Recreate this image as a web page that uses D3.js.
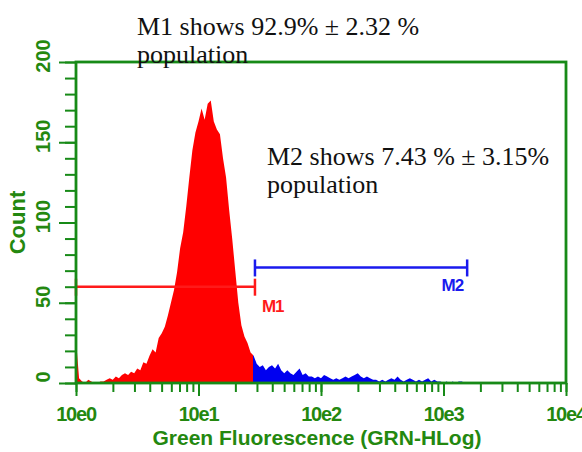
<!DOCTYPE html>
<html>
<head>
<meta charset="utf-8">
<script src="https://cdn.jsdelivr.net/npm/d3@7/dist/d3.min.js"></script>
<style>
  html, body { margin: 0; padding: 0; background: #fff; }
  svg { display: block; }
</style>
</head>
<body>
<div id="chart"></div>
<script>
// Histogram channels: 40 channels per decade starting at 10e0
const binsPerDecade = 40;
const counts = [
  27, 3, 1, 0, 2, 1, 0, 0, 1, 1,
  2, 3, 2, 4, 3, 5, 6, 5, 7, 6,
  9, 8, 13, 12, 17, 21, 19, 28, 31, 35,
  42, 50, 58, 69, 84, 94, 110, 128, 145, 156,
  163, 171, 164, 174, 176, 163, 158, 155, 140, 128,
  108, 90, 70, 50, 36, 29, 25, 19, 17, 12,
  10, 11, 8, 10, 11, 9, 12, 8, 6, 8,
  6, 5, 7, 9, 5, 6, 4, 4, 3, 4,
  3, 5, 4, 3, 2, 3, 2, 3, 4, 3,
  4, 5, 6, 4, 3, 4, 3, 2, 2, 1,
  2, 1, 2, 3, 2, 4, 2, 1, 2, 3,
  2, 1, 2, 1, 2, 3, 1, 2, 1, 1,
  0, 1, 0, 1, 0, 1, 1, 0, 0
];

// Gates (markers)
const markerNames = ["M1", "M2"];
const markerStart = [1, 28.9];
const markerEnd = [28.9, 1560];
const markerLevel = [60, 72];
const markerColors = ["#ff1a1a", "#1a1aee"];

// Axes
const xDecades = [1, 10, 100, 1000, 10000];
const xDecadeLabels = ["10e0", "10e1", "10e2", "10e3", "10e4"];
const yMajor = [0, 50, 100, 150, 200];
const yMajorLabels = ["0", "50", "100", "150", "200"];

const xTitle = "Green Fluorescence (GRN-HLog)";
const yTitle = "Count";
const note1 = ["M1 shows 92.9% \u00b1 2.32 %", "population"];
const note2 = ["M2 shows 7.43 % \u00b1 3.15%", "population"];

const W = 582, H = 452;
const plot = { left: 76, right: 566, top: 62, bottom: 383 };
const green = "#178a17";
const textGreen = "#24880f";

const svg = d3.select("#chart").append("svg")
  .attr("width", W).attr("height", H);

const x = d3.scaleLog().domain([1, 10000]).range([plot.left, plot.right]);
const y = d3.scaleLinear().domain([0, 200]).range([plot.bottom, plot.top]);

const hist = counts.map((c, i) => ({ v: Math.pow(10, i / binsPerDecade), c }));
hist.push({ v: Math.pow(10, counts.length / binsPerDecade), c: 0 });

const area = d3.area()
  .x(d => x(d.v))
  .y0(y(0))
  .y1(d => y(d.c));

const defs = svg.append("defs");
defs.append("clipPath").attr("id", "clipM1").append("rect")
  .attr("x", plot.left).attr("y", plot.top)
  .attr("width", x(markerEnd[0]) - 2 - plot.left)
  .attr("height", plot.bottom - plot.top);
defs.append("clipPath").attr("id", "clipRest").append("rect")
  .attr("x", x(markerEnd[0]) - 2).attr("y", plot.top)
  .attr("width", plot.right - x(markerEnd[0]) + 2)
  .attr("height", plot.bottom - plot.top);

svg.append("path").datum(hist)
  .attr("d", area).attr("fill", "#ff0000")
  .attr("clip-path", "url(#clipM1)");
svg.append("path").datum(hist)
  .attr("d", area).attr("fill", "#0000f0")
  .attr("clip-path", "url(#clipRest)");

const sans = "Liberation Sans, Arial, sans-serif";

// Gate bars
markerNames.forEach((name, i) => {
  const g = svg.append("g").attr("stroke", markerColors[i]).attr("stroke-width", 2.5);
  const yy = y(markerLevel[i]);
  const x0 = x(markerStart[i]), x1 = x(markerEnd[i]);
  g.append("line").attr("x1", x0).attr("x2", x1).attr("y1", yy).attr("y2", yy);
  g.append("line").attr("x1", x0).attr("x2", x0).attr("y1", yy - 8).attr("y2", yy + 9);
  g.append("line").attr("x1", x1).attr("x2", x1).attr("y1", yy - 8).attr("y2", yy + 9);
  svg.append("text")
    .attr("x", i === 0 ? x1 + 7 : x1 - 4)
    .attr("y", yy + (i === 0 ? 25 : 24))
    .attr("text-anchor", i === 0 ? "start" : "end")
    .attr("fill", markerColors[i])
    .attr("font-family", sans)
    .attr("font-weight", "bold")
    .attr("font-size", 17)
    .attr("letter-spacing", -1)
    .text(name);
});

// Y axis ticks
const yMinor = d3.range(0, 201, 10);
svg.append("g").attr("transform", `translate(${plot.left},0)`)
  .call(d3.axisLeft(y).tickValues(yMinor).tickSize(11).tickFormat(""))
  .call(g => g.select(".domain").remove())
  .call(g => g.selectAll("line").attr("stroke", green).attr("stroke-width", 2));
svg.append("g").attr("transform", `translate(${plot.left},0)`)
  .call(d3.axisLeft(y).tickValues(yMajor).tickSize(17).tickFormat(""))
  .call(g => g.select(".domain").remove())
  .call(g => g.selectAll("line").attr("stroke", green).attr("stroke-width", 2));

// X axis ticks (log minor)
const xMinor = [];
xDecades.slice(0, -1).forEach(d => { for (let k = 1; k <= 9; k++) xMinor.push(d * k); });
xMinor.push(10000);
svg.append("g").attr("transform", `translate(0,${plot.bottom})`)
  .call(d3.axisBottom(x).tickValues(xMinor).tickSize(9).tickFormat(""))
  .call(g => g.select(".domain").remove())
  .call(g => g.selectAll("line").attr("stroke", green).attr("stroke-width", 2));
svg.append("g").attr("transform", `translate(0,${plot.bottom})`)
  .call(d3.axisBottom(x).tickValues(xDecades).tickSize(13).tickFormat(""))
  .call(g => g.select(".domain").remove())
  .call(g => g.selectAll("line").attr("stroke", green).attr("stroke-width", 2));

// Frame
svg.append("rect")
  .attr("x", plot.left).attr("y", plot.top)
  .attr("width", plot.right - plot.left).attr("height", plot.bottom - plot.top)
  .attr("fill", "none").attr("stroke", green).attr("stroke-width", 2.8);

// X tick labels
svg.append("g").selectAll("text").data(xDecades).join("text")
  .attr("x", d => x(d)).attr("y", 421)
  .attr("text-anchor", "middle")
  .attr("font-family", sans).attr("font-weight", "bold").attr("font-size", 20)
  .attr("letter-spacing", -1.2)
  .attr("fill", textGreen)
  .text((d, i) => xDecadeLabels[i]);

// Y tick labels (rotated)
svg.append("g").selectAll("text").data(yMajor).join("text")
  .attr("transform", d => `translate(50,${y(d) - 6}) rotate(-90)`)
  .attr("text-anchor", "middle")
  .attr("font-family", sans).attr("font-weight", "bold").attr("font-size", 20)
  .attr("fill", textGreen)
  .text((d, i) => yMajorLabels[i]);

// Axis titles
svg.append("text")
  .attr("x", 317).attr("y", 445)
  .attr("text-anchor", "middle")
  .attr("font-family", sans).attr("font-weight", "bold").attr("font-size", 21)
  .attr("fill", textGreen)
  .text(xTitle);
svg.append("text")
  .attr("transform", `translate(25,${(plot.top + plot.bottom) / 2}) rotate(-90)`)
  .attr("text-anchor", "middle")
  .attr("font-family", sans).attr("font-weight", "bold").attr("font-size", 22)
  .attr("fill", textGreen)
  .text(yTitle);

// Annotations
const serif = "Liberation Serif, Times New Roman, serif";
function note(lines, x0, y0) {
  const t = svg.append("text")
    .attr("font-family", serif).attr("font-size", 26).attr("fill", "#111");
  lines.forEach((s, i) => {
    t.append("tspan").attr("x", x0).attr("y", y0 + i * 28).text(s);
  });
}
note(note1, 137, 35);
note(note2, 267, 165);
</script>
</body>
</html>
